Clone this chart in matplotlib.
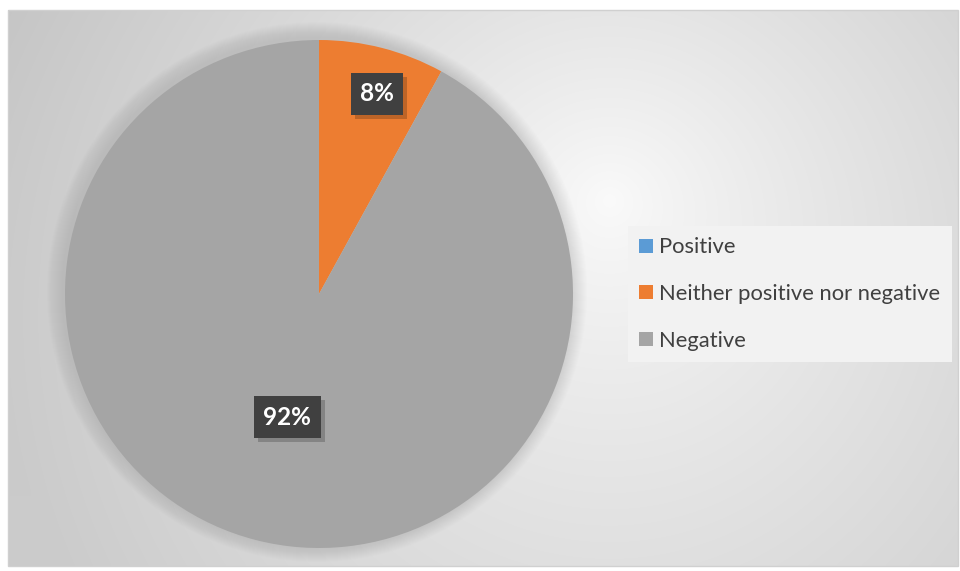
import numpy as np
import matplotlib
matplotlib.use("Agg")
import matplotlib.pyplot as plt
import matplotlib.patheffects as pe
from matplotlib.patches import Rectangle, Circle

categories = ["Positive", "Neither positive nor negative", "Negative"]
values = [0, 8, 92]
colors = ["#5b9bd5", "#ed7d31", "#a5a5a5"]

W, H = 960, 571
fig = plt.figure(figsize=(W / 100, H / 100), dpi=100)
fig.patch.set_facecolor("white")
ax = fig.add_axes([0, 0, 1, 1])
ax.set_xlim(0, W)
ax.set_ylim(0, H)
ax.set_aspect("equal")
ax.axis("off")

# chart area with radial gradient
x0, x1, y0, y1 = 8, 958, 5, 561
xs = np.linspace(x0, x1, 480)
ys = np.linspace(y0, y1, 280)
X, Y = np.meshgrid(xs, ys)
cx, cy = 610, H - 200
d = np.hypot(X - cx, (Y - cy))
v = 1.0 - 0.20 * np.clip(d / 650, 0, 1) ** 0.85 - 0.03 * (Y / H)
img = np.dstack([v, v, v])
ax.imshow(img, extent=[x0, x1, y0, y1], origin="lower", zorder=0, interpolation="bilinear")
ax.add_patch(Rectangle((x0, y0), x1 - x0, y1 - y0, fill=False, edgecolor="#d0d0d0", lw=1, zorder=1))

pc = (319, H - 294)
R = 254
# soft shadow
for k in range(16, 0, -1):
    ax.add_patch(Circle((pc[0] - 2, pc[1] + 2), R + k, facecolor="#707070", edgecolor="none",
                        alpha=0.010, zorder=2))

wedges, texts = ax.pie(values, colors=colors, startangle=90, counterclock=False,
                       center=pc, radius=R, wedgeprops=dict(linewidth=0), frame=True)
for w in wedges:
    w.set_zorder(3)
ax.set_xlim(0, W)
ax.set_ylim(0, H)
ax.axis("off")

total = sum(values)
label_dist = [0.0, 0.82, 0.5]
label_turn = [0.0, -1.8, 0.0]
for w, val, dist, turn in zip(wedges, values, label_dist, label_turn):
    if val == 0:
        continue
    ang = np.deg2rad((w.theta1 + w.theta2) / 2 + turn)
    tx = pc[0] + dist * R * np.cos(ang)
    ty = pc[1] + dist * R * np.sin(ang)
    t = ax.text(tx, ty, f"{val / total * 100:.0f}%", ha="center", va="center",
                color="white", fontsize=17.5, fontweight="bold", family="Lato", zorder=5,
                bbox=dict(boxstyle="square,pad=0.38", facecolor="#404040", edgecolor="none"))
    t.get_bbox_patch().set_path_effects([pe.withSimplePatchShadow(offset=(3, -3), shadow_rgbFace="black", alpha=0.2)])

# legend
handles = [Rectangle((0, 0), 1, 1, facecolor=c, edgecolor="none") for c in colors]
leg = ax.legend(handles, categories, loc="upper left",
                bbox_to_anchor=(628 / W, 1 - 226 / H), bbox_transform=fig.transFigure,
                frameon=True, fancybox=False, facecolor="#f2f2f2", edgecolor="none",
                framealpha=1.0, prop=dict(family="Lato", size=15.8), labelcolor="#404040",
                handlelength=0.6, handleheight=0.6, handletextpad=0.3,
                labelspacing=1.22, borderpad=0.52, borderaxespad=0)
leg.set_zorder(6)

fig.savefig("out.png", dpi=100)
